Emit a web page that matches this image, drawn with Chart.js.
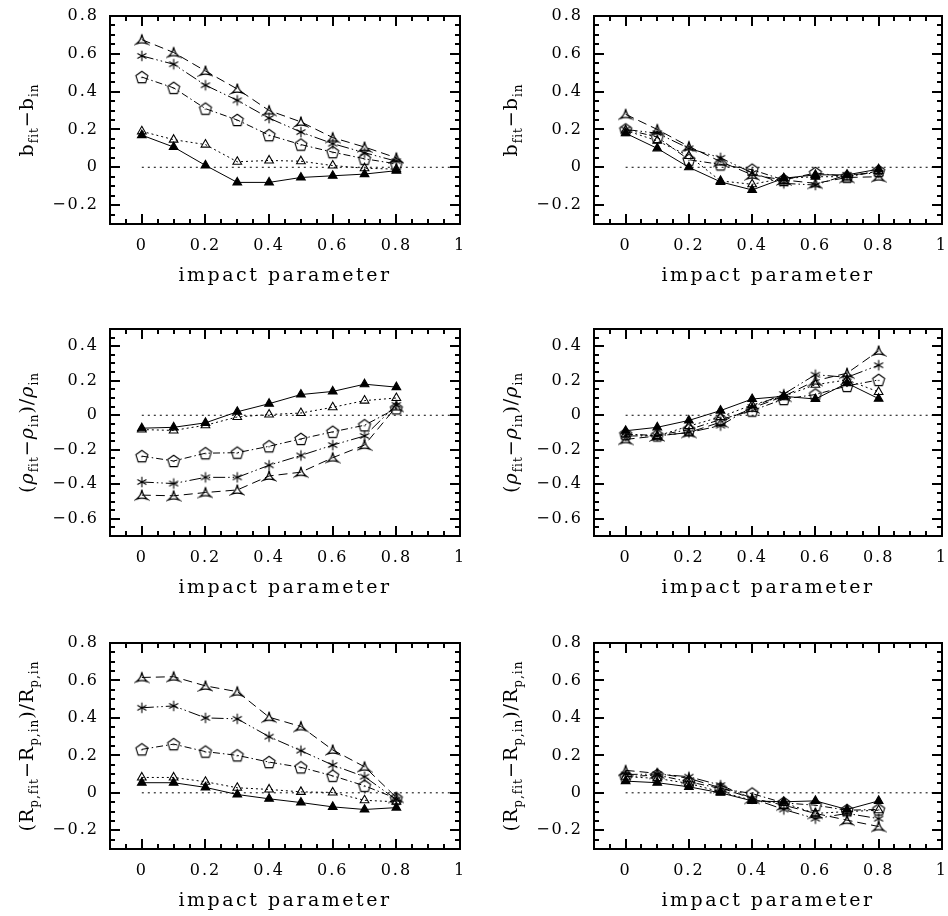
<!DOCTYPE html>
<html>
<head>
<meta charset="utf-8">
<script src="https://cdn.jsdelivr.net/npm/chart.js@4.4.0/dist/chart.umd.min.js"></script>
<style>
  body { margin: 0; background: #fff; }
  #page { position: relative; width: 948px; height: 916px; overflow: hidden; }
  .panel { position: absolute; }
</style>
</head>
<body>
<div id="page"></div>
<script>
const impactParam = [0, 0.1, 0.2, 0.3, 0.4, 0.5, 0.6, 0.7, 0.8];
const xTickValues = [0, 0.2, 0.4, 0.6, 0.8, 1];
const yTicksWide = [-0.2, 0, 0.2, 0.4, 0.6, 0.8];
const yTicksRho = [-0.6, -0.4, -0.2, 0, 0.2, 0.4];
const zeroLineX = [0, 1];

// rows: filled triangle, open triangle, pentagon, asterisk, skeletal triangle
const bLeft = [
  [0.17, 0.107, 0.01, -0.08, -0.08, -0.054, -0.045, -0.036, -0.018],
  [0.19, 0.146, 0.12, 0.029, 0.036, 0.032, 0.009, -0.005, -0.01],
  [0.477, 0.42, 0.31, 0.25, 0.17, 0.12, 0.08, 0.045, 0.018],
  [0.589, 0.545, 0.434, 0.354, 0.26, 0.186, 0.125, 0.077, 0.032],
  [0.675, 0.607, 0.509, 0.414, 0.30, 0.24, 0.157, 0.107, 0.05]
];
const bRight = [
  [0.18, 0.10, 0.0, -0.077, -0.12, -0.058, -0.04, -0.04, -0.01],
  [0.195, 0.14, 0.06, -0.072, -0.09, -0.058, -0.05, -0.05, -0.02],
  [0.20, 0.16, 0.04, 0.015, -0.013, -0.067, -0.03, -0.05, -0.02],
  [0.20, 0.18, 0.10, 0.05, -0.03, -0.085, -0.094, -0.04, -0.03],
  [0.28, 0.20, 0.11, 0.03, -0.04, -0.067, -0.085, -0.054, -0.05]
];
const rhoLeft = [
  [-0.075, -0.07, -0.044, 0.02, 0.067, 0.12, 0.138, 0.18, 0.163],
  [-0.083, -0.088, -0.058, -0.01, 0.004, 0.013, 0.046, 0.085, 0.10],
  [-0.237, -0.265, -0.22, -0.217, -0.18, -0.137, -0.096, -0.058, 0.04],
  [-0.387, -0.396, -0.36, -0.36, -0.29, -0.233, -0.173, -0.12, 0.06],
  [-0.463, -0.467, -0.448, -0.433, -0.352, -0.33, -0.246, -0.173, 0.05]
];
const rhoRight = [
  [-0.09, -0.07, -0.03, 0.027, 0.094, 0.11, 0.094, 0.186, 0.096],
  [-0.11, -0.12, -0.063, -0.01, 0.06, 0.11, 0.177, 0.205, 0.135],
  [-0.11, -0.117, -0.083, -0.025, 0.027, 0.094, 0.12, 0.17, 0.205],
  [-0.12, -0.12, -0.10, -0.06, 0.048, 0.123, 0.235, 0.22, 0.29],
  [-0.14, -0.12, -0.10, -0.04, 0.042, 0.11, 0.20, 0.244, 0.373]
];
const rpLeft = [
  [0.054, 0.054, 0.029, -0.009, -0.032, -0.052, -0.075, -0.089, -0.079],
  [0.082, 0.082, 0.059, 0.027, 0.018, 0.005, 0.002, -0.04, -0.048],
  [0.232, 0.26, 0.22, 0.20, 0.164, 0.136, 0.091, 0.0375, -0.03],
  [0.454, 0.464, 0.40, 0.395, 0.30, 0.225, 0.148, 0.086, -0.036],
  [0.616, 0.62, 0.571, 0.54, 0.404, 0.354, 0.229, 0.139, -0.025]
];
const rpRight = [
  [0.0625, 0.054, 0.032, 0.0, -0.043, -0.048, -0.043, -0.089, -0.043],
  [0.086, 0.077, 0.05, 0.005, -0.04, -0.054, -0.11, -0.10, -0.093],
  [0.086, 0.095, 0.059, 0.023, -0.004, -0.054, -0.066, -0.093, -0.089],
  [0.098, 0.10, 0.086, 0.041, -0.03, -0.089, -0.138, -0.11, -0.138],
  [0.12, 0.104, 0.077, 0.027, -0.03, -0.066, -0.11, -0.146, -0.18]
];

// y titles: [text, subscript?, italic?]
const labelB = [['b', 0], ['fit', 1], ['\u2212b', 0], ['in', 1]];
const labelRho = [['(', 0], ['\u03c1', 0, 1], ['fit', 1], ['\u2212', 0], ['\u03c1', 0, 1], ['in', 1], [')/', 0], ['\u03c1', 0, 1], ['in', 1]];
const labelRp = [['(R', 0], ['p,fit', 1], ['\u2212R', 0], ['p,in', 1], [')/R', 0], ['p,in', 1]];
const xTitle = 'impact parameter';

const xMin = -0.1, xMax = 1;
const panels = [
  { data: bLeft, col: 0, row: 0, yMin: -0.3, yMax: 0.8, yTicks: yTicksWide, label: labelB },
  { data: bRight, col: 1, row: 0, yMin: -0.3, yMax: 0.8, yTicks: yTicksWide, label: labelB },
  { data: rhoLeft, col: 0, row: 1, yMin: -0.7, yMax: 0.5, yTicks: yTicksRho, label: labelRho },
  { data: rhoRight, col: 1, row: 1, yMin: -0.7, yMax: 0.5, yTicks: yTicksRho, label: labelRho },
  { data: rpLeft, col: 0, row: 2, yMin: -0.3, yMax: 0.8, yTicks: yTicksWide, label: labelRp },
  { data: rpRight, col: 1, row: 2, yMin: -0.3, yMax: 0.8, yTicks: yTicksWide, label: labelRp }
];

// layout (page pixels)
const canvasW = 474;
const colX = [0, 474];
const plotLeft = [110, 120];
const plotRight = [460, 470];
const rowY = [0, 305, 610];
const rowH = [305, 305, 306];
const plotTop = [16, 24, 33];
const plotBottom = [224, 231, 239];

const fontFamily = '"DejaVu Serif", serif';

function makeMarker(size, draw) {
  const c = document.createElement('canvas');
  c.width = size; c.height = size;
  const g = c.getContext('2d');
  g.strokeStyle = '#000'; g.fillStyle = '#000'; g.lineWidth = 1.1;
  g.translate(size / 2, size / 2);
  draw(g);
  return c;
}

const pentagonMarker = makeMarker(16, g => {
  g.beginPath();
  for (let k = 0; k < 5; k++) {
    const a = -Math.PI / 2 + k * 2 * Math.PI / 5;
    const px = 6.3 * Math.cos(a), py = 6.3 * Math.sin(a) + 0.5;
    k ? g.lineTo(px, py) : g.moveTo(px, py);
  }
  g.closePath();
  g.stroke();
  g.fillRect(-0.6, -0.1, 1.2, 1.2);
});

const asteriskMarker = makeMarker(14, g => {
  g.beginPath();
  for (let k = 0; k < 3; k++) {
    const a = Math.PI / 2 + k * Math.PI / 3;
    g.moveTo(5.2 * Math.cos(a), 5.2 * Math.sin(a));
    g.lineTo(-5.2 * Math.cos(a), -5.2 * Math.sin(a));
  }
  g.stroke();
});

const skelMarker = makeMarker(16, g => {
  const r = 6.5;
  const v = [0, 1, 2].map(k => {
    const a = -Math.PI / 2 + k * 2 * Math.PI / 3;
    return [r * Math.cos(a), r * Math.sin(a) + 1];
  });
  g.lineWidth = 1.3;
  g.beginPath();
  g.moveTo(v[0][0], v[0][1]);
  for (let k = 1; k <= 3; k++) {
    const p = v[k % 3], q = v[k - 1];
    g.quadraticCurveTo((p[0] + q[0]) * 0.15, (p[1] + q[1]) * 0.15 + 0.8, p[0], p[1]);
  }
  g.stroke();
});

const seriesStyle = [
  { pointStyle: 'triangle', fill: '#000', dash: [] },
  { pointStyle: 'triangle', fill: 'rgba(0,0,0,0)', dash: [2, 3] },
  { pointStyle: pentagonMarker, fill: 'rgba(0,0,0,0)', dash: [7, 3, 1.5, 3] },
  { pointStyle: asteriskMarker, fill: 'rgba(0,0,0,0)', dash: [12, 3, 1.5, 3, 1.5, 3] },
  { pointStyle: skelMarker, fill: 'rgba(0,0,0,0)', dash: [9, 5] }
];

function fmt(v) {
  if (Math.abs(v) < 1e-9) return '0';
  const s = String(Math.round(Math.abs(v) * 10) / 10);
  return v < 0 ? '\u2212' + s : s;
}

// frame with inward ticks, PGPLOT style: crisp 2px marks on whole pixels
const framePlugin = {
  id: 'frame',
  afterDraw(chart) {
    const ctx = chart.ctx;
    const a = chart.chartArea;
    const xs = chart.scales.x;
    const ys = chart.scales.y;
    const left = Math.round(a.left), right = Math.round(a.right);
    const top = Math.round(a.top), bottom = Math.round(a.bottom);
    ctx.save();
    ctx.globalAlpha = 1;
    ctx.globalCompositeOperation = 'source-over';
    ctx.fillStyle = '#000';
    for (let i = -2; i <= 20; i++) {
      const len = (i % 4 === 0) ? 10 : 5;
      const px = Math.round(xs.getPixelForValue(i * 0.05)) - 1;
      ctx.fillRect(px, bottom - len, 2, len);
      ctx.fillRect(px, top, 2, len);
    }
    for (let i = Math.round(ys.min / 0.05); i <= Math.round(ys.max / 0.05); i++) {
      const len = (i % 4 === 0) ? 10 : 5;
      const py = Math.round(ys.getPixelForValue(i * 0.05)) - 1;
      ctx.fillRect(left, py, len, 2);
      ctx.fillRect(right - len, py, len, 2);
    }
    ctx.fillRect(left - 1, top - 1, right - left + 2, 2);
    ctx.fillRect(left - 1, bottom - 1, right - left + 2, 2);
    ctx.fillRect(left - 1, top - 1, 2, bottom - top + 2);
    ctx.fillRect(right - 1, top - 1, 2, bottom - top + 2);
    ctx.restore();
  }
};

// axis titles with subscripts
const titlePlugin = {
  id: 'titles',
  afterDraw(chart, args, opts) {
    const { ctx, chartArea: a } = chart;
    ctx.save();
    ctx.fillStyle = '#000';
    ctx.letterSpacing = '2.5px';
    ctx.font = '19px ' + fontFamily;
    ctx.textAlign = 'center';
    ctx.textBaseline = 'alphabetic';
    ctx.fillText(xTitle, (a.left + a.right) / 2, a.bottom + 57);

    ctx.letterSpacing = '1px';
    ctx.textAlign = 'left';
    const fontFor = (sub, it) => (it ? 'italic ' : '') + (sub ? '12px ' : '19px ') + fontFamily;
    let total = 0;
    opts.parts.forEach(([t, sub, it]) => {
      ctx.font = fontFor(sub, it);
      total += ctx.measureText(t).width;
    });
    ctx.translate(a.left - 77, (a.top + a.bottom) / 2);
    ctx.rotate(-Math.PI / 2);
    let pos = -total / 2;
    opts.parts.forEach(([t, sub, it]) => {
      ctx.font = fontFor(sub, it);
      ctx.fillText(t, pos, sub ? 5 : 0);
      pos += ctx.measureText(t).width;
    });
    ctx.restore();
  }
};

const tickFont = { family: fontFamily, size: 16 };

const spacingPlugin = {
  id: 'spacing',
  beforeDraw(chart) { chart.ctx.letterSpacing = '2px'; },
  afterDraw(chart) { chart.ctx.letterSpacing = '0px'; }
};

panels.forEach(p => {
  const cv = document.createElement('canvas');
  cv.className = 'panel';
  cv.width = canvasW;
  cv.height = rowH[p.row];
  cv.style.left = colX[p.col] + 'px';
  cv.style.top = rowY[p.row] + 'px';
  document.getElementById('page').appendChild(cv);

  const datasets = [{
    data: zeroLineX.map(v => ({ x: v, y: 0 })),
    borderColor: '#000',
    borderWidth: 1,
    borderDash: [2, 4],
    pointRadius: 0
  }];
  p.data.forEach((vals, k) => {
    const st = seriesStyle[k];
    datasets.push({
      data: impactParam.map((b, i) => ({ x: b, y: vals[i] })),
      borderColor: '#000',
      borderWidth: 1,
      borderDash: st.dash,
      pointStyle: st.pointStyle,
      pointRadius: 5,
      pointBackgroundColor: st.fill,
      pointBorderColor: '#000',
      pointBorderWidth: 1.1,
      tension: 0
    });
  });

  new Chart(cv, {
    type: 'line',
    data: { datasets },
    options: {
      responsive: false,
      animation: false,
      events: [],
      devicePixelRatio: 1,
      layout: { padding: { top: plotTop[p.row], right: canvasW - plotRight[p.col], left: 0, bottom: 0 } },
      plugins: {
        legend: { display: false },
        tooltip: { enabled: false },
        titles: { parts: p.label }
      },
      scales: {
        x: {
          type: 'linear',
          min: xMin,
          max: xMax,
          grid: { display: false, drawTicks: false },
          border: { display: false },
          afterBuildTicks: s => { s.ticks = xTickValues.map(v => ({ value: v })); },
          afterFit: s => {
            s.height = rowH[p.row] - plotBottom[p.row];
            s.paddingLeft = 0; s.paddingRight = 0;
          },
          ticks: { padding: 12, font: tickFont, color: '#000', autoSkip: false, maxRotation: 0, callback: v => fmt(v) }
        },
        y: {
          type: 'linear',
          min: p.yMin,
          max: p.yMax,
          grid: { display: false, drawTicks: false },
          border: { display: false },
          afterBuildTicks: s => { s.ticks = p.yTicks.map(v => ({ value: v })); },
          afterFit: s => {
            s.width = plotLeft[p.col];
            s.paddingTop = 0; s.paddingBottom = 0;
          },
          ticks: { padding: 11, font: tickFont, color: '#000', autoSkip: false, callback: v => fmt(v) }
        }
      }
    },
    plugins: [spacingPlugin, framePlugin, titlePlugin]
  });
});
</script>
</body>
</html>
